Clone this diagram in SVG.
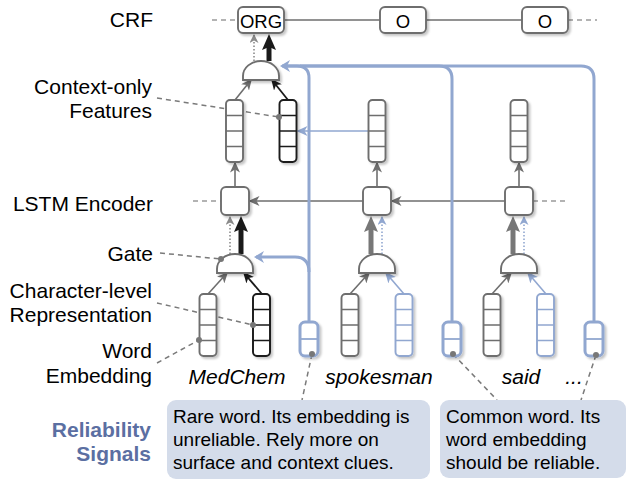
<svg xmlns="http://www.w3.org/2000/svg" width="634" height="485" viewBox="0 0 634 485">
<defs>
<style>
.t{font-family:"Liberation Sans",Arial,Helvetica,sans-serif;fill:#000}
.lab{font-size:21px;text-anchor:end}
.w{font-size:21px;font-style:italic;text-anchor:middle}
.rs{font-size:21px;font-weight:bold;fill:#5b6fa2;text-anchor:end}
.bx{font-size:19px}
.crf{font-size:18.5px;text-anchor:middle}
.box{fill:#fff;stroke:#6e6e6e;stroke-width:1.9;filter:url(#sh)}
.vec rect{fill:#fff;stroke:#6e6e6e;stroke-width:1.9;filter:url(#sh)}
.vec path{stroke:#6e6e6e;stroke-width:1.5;fill:none}
.vec.k rect,.vec.k path{stroke:#1a1a1a}
.vec.b rect,.vec.b path{stroke:#91a7d0}
.vec.s rect{stroke:#91a7d0;stroke-width:3}
.vec.s path{stroke:#91a7d0;stroke-width:1.8}
.gate{fill:#fff;stroke:#6e6e6e;stroke-width:1.9;filter:url(#sh)}
.ln{stroke:#6e6e6e;stroke-width:1.6;fill:none}
.lk{stroke:#1a1a1a;stroke-width:1.8;fill:none}
.dash{stroke:#9a9a9a;stroke-width:1.6;stroke-dasharray:5 4;fill:none}
.lead{stroke:#7a7a7a;stroke-width:1.5;stroke-dasharray:5 4;fill:none}
.dot{fill:#777}
.blue{stroke:#91a7d0;stroke-width:3;fill:none}
.bthin{stroke:#91a7d0;stroke-width:1.6;fill:none}
.thk{stroke-width:5;fill:none}
.dotted{stroke-width:1.6;stroke-dasharray:1.5 2;fill:none}
.note{fill:#d4dcea}
</style>
<filter id="sh" x="-30%" y="-30%" width="170%" height="170%">
<feDropShadow dx="2" dy="2" stdDeviation="1" flood-color="#000" flood-opacity="0.22"/>
</filter>
<marker id="mg" viewBox="0 0 11 10" refX="9.5" refY="5" markerWidth="11" markerHeight="10" markerUnits="userSpaceOnUse" orient="auto"><path d="M0,0 L11,5 L0,10 L3,5 Z" fill="#6e6e6e"/></marker>
<marker id="mk" viewBox="0 0 11 10" refX="9.5" refY="5" markerWidth="11" markerHeight="10" markerUnits="userSpaceOnUse" orient="auto"><path d="M0,0 L11,5 L0,10 L3,5 Z" fill="#1a1a1a"/></marker>
<marker id="mb" viewBox="0 0 11 10" refX="9.5" refY="5" markerWidth="11" markerHeight="10" markerUnits="userSpaceOnUse" orient="auto"><path d="M0,0 L11,5 L0,10 L3,5 Z" fill="#91a7d0"/></marker>
<marker id="mB" viewBox="0 0 10 12" refX="8" refY="6" markerWidth="10" markerHeight="12" markerUnits="userSpaceOnUse" orient="auto"><path d="M0,0 L10,6 L0,12 L3,6 Z" fill="#91a7d0"/></marker>
<marker id="tk" viewBox="0 0 16 14" refX="6" refY="7" markerWidth="16" markerHeight="14" markerUnits="userSpaceOnUse" orient="auto"><path d="M0,0 L16,7 L0,14 L3,7 Z" fill="#1a1a1a"/></marker>
<marker id="tg" viewBox="0 0 16 14" refX="6" refY="7" markerWidth="16" markerHeight="14" markerUnits="userSpaceOnUse" orient="auto"><path d="M0,0 L16,7 L0,14 L3,7 Z" fill="#777"/></marker>
<marker id="dg" viewBox="0 0 9 9" refX="8" refY="4.5" markerWidth="9" markerHeight="9" markerUnits="userSpaceOnUse" orient="auto"><path d="M0,0 L9,4.5 L0,9 L2.5,4.5 Z" fill="#8a8a8a"/></marker>
<marker id="db" viewBox="0 0 9 9" refX="8" refY="4.5" markerWidth="9" markerHeight="9" markerUnits="userSpaceOnUse" orient="auto"><path d="M0,0 L9,4.5 L0,9 L2.5,4.5 Z" fill="#91a7d0"/></marker>
</defs>
<rect width="634" height="485" fill="#fff"/>

<g id="labels" class="t">
<text class="t lab" x="153" y="27">CRF</text>
<text class="t lab" x="152" y="94">Context-only</text>
<text class="t lab" x="152" y="118">Features</text>
<text class="t lab" x="153" y="211">LSTM Encoder</text>
<text class="t lab" x="153" y="261">Gate</text>
<text class="t lab" x="152" y="298">Character-level</text>
<text class="t lab" x="152" y="322">Representation</text>
<text class="t lab" x="152" y="358">Word</text>
<text class="t lab" x="152" y="383">Embedding</text>
<text class="t rs" x="151" y="437">Reliability</text>
<text class="t rs" x="151" y="461">Signals</text>
</g>

<g id="leaders">
<path class="lead" d="M157,98 L279,117"/>
<path class="lead" d="M160,253 L221,259"/>
<path class="lead" d="M157,303 L253,325"/>
<path class="lead" d="M157,363 L199,340"/>
<path class="lead" d="M312,354 L302,400"/>
<path class="lead" d="M453,354 L497,400"/>
<path class="lead" d="M596,355 L581,400"/>
</g>

<g id="connectors">
<path class="dash" d="M212,20 H238"/>
<path class="ln" d="M284,20 H380"/>
<path class="ln" d="M426,20 H522"/>
<path class="dash" d="M568,20 H597"/>
<path class="dash" d="M193,201 H221"/>
<path class="ln" d="M363,201 H250" marker-end="url(#mg)"/>
<path class="ln" d="M505,201 H392" marker-end="url(#mg)"/>
<path class="dash" d="M533,201 H565"/>
<path class="ln" d="M235,187 V163" marker-end="url(#mg)"/>
<path class="ln" d="M377,187 V163" marker-end="url(#mg)"/>
<path class="ln" d="M519,187 V163" marker-end="url(#mg)"/>
<path class="ln" d="M235,100 L251,80" marker-end="url(#mg)"/>
<path class="lk" d="M288,100 L272,80" marker-end="url(#mk)"/>
<path class="ln" d="M208,294 L227,273" marker-end="url(#mg)"/>
<path class="lk" d="M262,294 L244,273" marker-end="url(#mk)"/>
<path class="ln" d="M350,294 L369,273" marker-end="url(#mg)"/>
<path class="bthin" d="M404,294 L386,273" marker-end="url(#mb)"/>
<path class="ln" d="M492,294 L511,273" marker-end="url(#mg)"/>
<path class="bthin" d="M546,294 L528,273" marker-end="url(#mb)"/>
<path class="thk" stroke="#1a1a1a" d="M269,61 V44" marker-end="url(#tk)"/>
<path class="dotted" stroke="#8a8a8a" d="M254,61 V35" marker-end="url(#dg)"/>
<path class="thk" stroke="#1a1a1a" d="M241,254 V226" marker-end="url(#tk)"/>
<path class="dotted" stroke="#8a8a8a" d="M230,254 V217" marker-end="url(#dg)"/>
<path class="thk" stroke="#777" d="M371,254 V226" marker-end="url(#tg)"/>
<path class="dotted" stroke="#91a7d0" d="M382,254 V217" marker-end="url(#db)"/>
<path class="thk" stroke="#777" d="M513,254 V226" marker-end="url(#tg)"/>
<path class="dotted" stroke="#91a7d0" d="M524,254 V217" marker-end="url(#db)"/>
<path class="bthin" d="M368,131 H298" marker-end="url(#mb)"/>
<path class="blue" d="M309,322 V78 Q309,66 297,66 H285"/>
<path class="blue" d="M452,322 V79 Q452,66 439,66 H300"/>
<path class="blue" d="M594,322 V79 Q594,66 581,66 H282" marker-end="url(#mB)"/>
<path class="blue" d="M309,272 Q309,257 295,257 H256" marker-end="url(#mB)"/>
</g>

<g id="crf-org"><rect class="box" x="238" y="7" width="46" height="26" rx="5"/><text class="t crf" x="261" y="27.5">ORG</text></g>
<g id="crf-o1"><rect class="box" x="380" y="7" width="46" height="26" rx="5"/><text class="t crf" x="403" y="27.5">O</text></g>
<g id="crf-o2"><rect class="box" x="522" y="7" width="46" height="26" rx="5"/><text class="t crf" x="545" y="27.5">O</text></g>

<g id="gate-top"><path class="gate" d="M243,80 V76 A18,15 0 0 1 279,76 V80 Z"/></g>
<g id="gate-1"><path class="gate" d="M217,273 V269 A18,15 0 0 1 253,269 V273 Z"/></g>
<g id="gate-2"><path class="gate" d="M359,273 V269 A18,15 0 0 1 395,269 V273 Z"/></g>
<g id="gate-3"><path class="gate" d="M501,273 V269 A18,15 0 0 1 537,269 V273 Z"/></g>

<g id="lstm-1"><rect class="box" x="221" y="187" width="28" height="28" rx="5"/></g>
<g id="lstm-2"><rect class="box" x="363" y="187" width="28" height="28" rx="5"/></g>
<g id="lstm-3"><rect class="box" x="505" y="187" width="28" height="28" rx="5"/></g>

<g id="ctx-1" class="vec"><rect x="226" y="100" width="17" height="62" rx="4"/><path d="M226,115.5 h17 M226,131 h17 M226,146.5 h17"/></g>
<g id="ctx-char" class="vec k"><rect x="279.5" y="100" width="17" height="62" rx="4"/><path d="M279.5,115.5 h17 M279.5,131 h17 M279.5,146.5 h17"/></g>
<g id="ctx-2" class="vec"><rect x="368.5" y="100" width="17" height="62" rx="4"/><path d="M368.5,115.5 h17 M368.5,131 h17 M368.5,146.5 h17"/></g>
<g id="ctx-3" class="vec"><rect x="510.5" y="100" width="17" height="62" rx="4"/><path d="M510.5,115.5 h17 M510.5,131 h17 M510.5,146.5 h17"/></g>

<g id="emb-1" class="vec"><rect x="199.5" y="294" width="17" height="62" rx="4"/><path d="M199.5,309.5 h17 M199.5,325 h17 M199.5,340.5 h17"/></g>
<g id="char-1" class="vec k"><rect x="253" y="294" width="17" height="62" rx="4"/><path d="M253,309.5 h17 M253,325 h17 M253,340.5 h17"/></g>
<g id="emb-2" class="vec"><rect x="341.5" y="294" width="17" height="62" rx="4"/><path d="M341.5,309.5 h17 M341.5,325 h17 M341.5,340.5 h17"/></g>
<g id="char-2" class="vec b"><rect x="395.5" y="294" width="17" height="62" rx="4"/><path d="M395.5,309.5 h17 M395.5,325 h17 M395.5,340.5 h17"/></g>
<g id="emb-3" class="vec"><rect x="483.5" y="294" width="17" height="62" rx="4"/><path d="M483.5,309.5 h17 M483.5,325 h17 M483.5,340.5 h17"/></g>
<g id="char-3" class="vec b"><rect x="537" y="294" width="17" height="62" rx="4"/><path d="M537,309.5 h17 M537,325 h17 M537,340.5 h17"/></g>

<g id="sig-1" class="vec s"><rect x="300" y="322" width="18" height="34" rx="5"/><path d="M300,339 h18"/></g>
<g id="sig-2" class="vec s"><rect x="443" y="322" width="18" height="34" rx="5"/><path d="M443,339 h18"/></g>
<g id="sig-3" class="vec s"><rect x="585" y="322" width="18" height="34" rx="5"/><path d="M585,339 h18"/></g>

<g id="dots">
<circle class="dot" cx="279" cy="117" r="3"/>
<circle class="dot" cx="221" cy="259" r="3"/>
<circle class="dot" cx="253" cy="325" r="3"/>
<circle class="dot" cx="199" cy="340" r="3"/>
<circle class="dot" cx="312" cy="354" r="3"/>
<circle class="dot" cx="453" cy="354" r="3"/>
<circle class="dot" cx="596" cy="355" r="3"/>
</g>

<g id="words">
<text class="t w" x="237" y="384">MedChem</text>
<text class="t w" x="379" y="384">spokesman</text>
<text class="t w" x="521" y="384">said</text>
<text class="t w" x="574" y="384">...</text>
</g>

<g id="note-rare">
<rect class="note" x="167" y="400" width="263" height="79" rx="9"/>
<text class="t bx" x="173" y="423">Rare word. Its embedding is</text>
<text class="t bx" x="173" y="446">unreliable. Rely more on</text>
<text class="t bx" x="173" y="469">surface and context clues.</text>
</g>
<g id="note-common">
<rect class="note" x="440" y="400" width="186" height="78" rx="9"/>
<text class="t bx" x="446" y="423">Common word. Its</text>
<text class="t bx" x="446" y="446">word embedding</text>
<text class="t bx" x="446" y="469">should be reliable.</text>
</g>
</svg>
